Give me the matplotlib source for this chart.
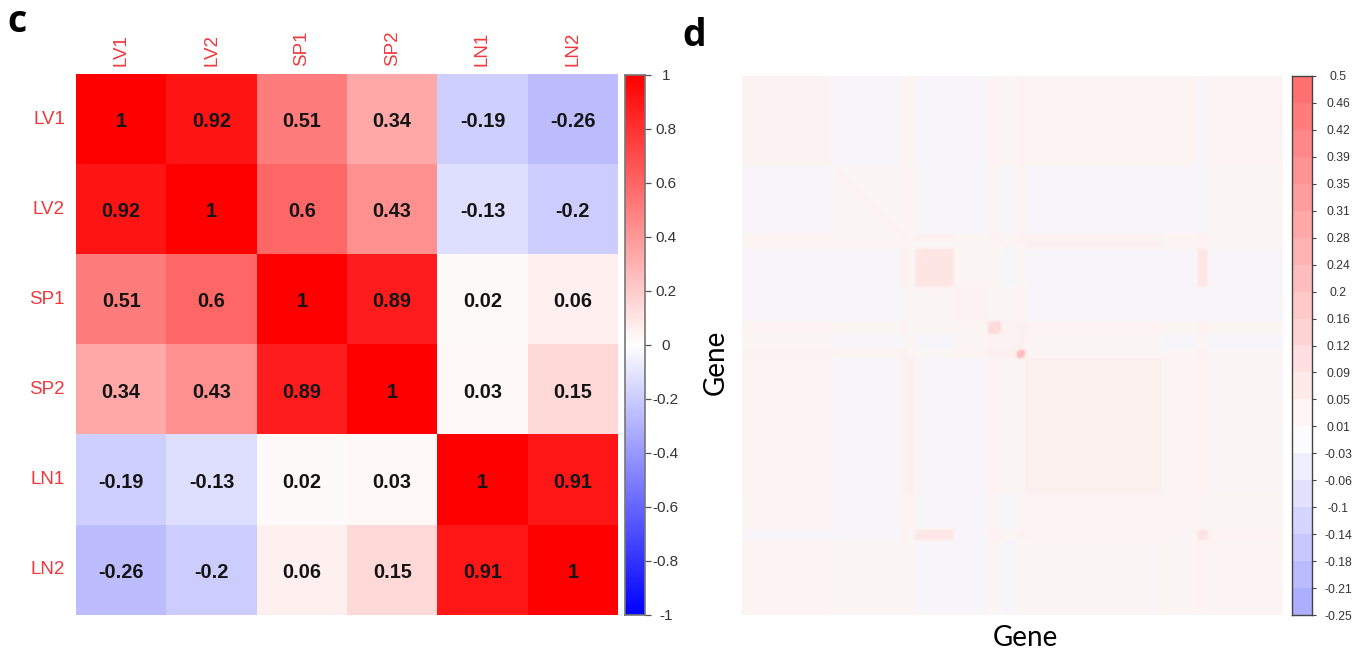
import numpy as np
import matplotlib
matplotlib.use("Agg")
import matplotlib.pyplot as plt
from matplotlib.colors import LinearSegmentedColormap, ListedColormap, BoundaryNorm, Normalize

samples = ["LV1", "LV2", "SP1", "SP2", "LN1", "LN2"]
corr = [
    [1, 0.92, 0.51, 0.34, -0.19, -0.26],
    [0.92, 1, 0.6, 0.43, -0.13, -0.2],
    [0.51, 0.6, 1, 0.89, 0.02, 0.06],
    [0.34, 0.43, 0.89, 1, 0.03, 0.15],
    [-0.19, -0.13, 0.02, 0.03, 1, 0.91],
    [-0.26, -0.2, 0.06, 0.15, 0.91, 1],
]
corr_ticks = [1, 0.8, 0.6, 0.4, 0.2, 0, -0.2, -0.4, -0.6, -0.8, -1]

gene_ticks = [0.5, 0.4625, 0.425, 0.3875, 0.35, 0.3125, 0.275, 0.2375, 0.2, 0.1625, 0.125,
              0.0875, 0.05, 0.0125, -0.025, -0.0625, -0.1, -0.1375, -0.175, -0.2125, -0.25]
gene_tick_labels = ["0.5", "0.46", "0.42", "0.39", "0.35", "0.31", "0.28", "0.24", "0.2", "0.16", "0.12",
                    "0.09", "0.05", "0.01", "-0.03", "-0.06", "-0.1", "-0.14", "-0.18", "-0.21", "-0.25"]

# Gene clusters (gene counts per cluster, in display order)
cluster_sizes = [90, 68, 8, 7, 39, 34, 13, 16, 8, 137, 35, 11, 75]
# Mean correlation between clusters, upper triangle
cluster_corr_upper = [
    [.030, -.008, .020, .015, -.008, -.008, .020, .012, .030, .022, .018, -.008, .020],
    [.012, .012, .022, -.008, -.008, .012, -.008, .025, -.008, -.008, -.008, .012],
    [.025, .012, .035, .012, .030, .012, .035, .030, .015, .030, .012],
    [.012, .010, .012, .012, .012, .012, .040, .025, .012, .012],
    [.090, .012, .012, -.008, .012, -.008, -.008, .085, -.008],
    [.030, .012, .012, .025, -.008, -.008, -.008, -.008],
    [.130, .030, .040, .025, .012, .030, .012],
    [.030, .040, .012, -.008, .012, -.008],
    [.260, .012, .012, .030, .012],
    [.045, .015, .015, .008],
    [.018, .012, .012],
    [.100, .025],
    [.015],
]
gene_self_corr = 0.05

FW, FH = 1368, 653
fig = plt.figure(figsize=(FW / 100, FH / 100), dpi=100, facecolor="white")
def box(x0, y0, x1, y1):
    return fig.add_axes([x0 / FW, 1 - y1 / FH, (x1 - x0) / FW, (y1 - y0) / FH])

HELV = "Liberation Sans"
bwr = LinearSegmentedColormap.from_list("bwr2", ["#0000ff", "#ffffff", "#ff0000"], N=256)
cnorm = Normalize(-1, 1)

# Panel c
ax = box(76, 74, 618, 615)
corr_arr = np.array(corr, dtype=float)
ax.imshow(corr_arr, cmap=bwr, norm=cnorm, aspect="auto", interpolation="nearest")
for i in range(len(samples)):
    for j in range(len(samples)):
        ax.annotate(f"{corr[i][j]:g}", (j, i), xytext=(0, -1.8), textcoords="offset points",
                    ha="center", va="center", fontsize=14.3,
                    fontweight="bold", family=HELV, color="#141414")
ax.set_xticks(range(6))
ax.set_yticks(range(6))
ax.xaxis.tick_top()
ax.set_xticklabels(samples, rotation=90, color="#f0383c", fontsize=13.5, family=HELV, va="bottom")
ax.set_yticklabels(samples, color="#f0383c", fontsize=13.5, family=HELV, va="center")
ax.tick_params(length=0)
ax.tick_params(axis="x", pad=6)
ax.tick_params(axis="y", pad=8)
for s in ax.spines.values():
    s.set_visible(False)

# Panel c colour bar
cax = box(625, 75, 645, 615)
grad = np.linspace(1, -1, 256)[:, None]
cax.imshow(grad, cmap=bwr, norm=cnorm, aspect="auto", extent=[0, 1, -1, 1])
cax.set_xticks([])
cax.yaxis.tick_right()
cax.set_yticks(corr_ticks)
cax.set_yticklabels([f"{t:g}" for t in corr_ticks], family=HELV, fontsize=11, color="#333333")
for lab in cax.get_yticklabels():
    lab.set_horizontalalignment("center")
cax.tick_params(axis="y", length=4, width=0.9, color="#555555", pad=11)
for s in cax.spines.values():
    s.set_color("#777777")
    s.set_linewidth(1.2)

# Panel d
k = len(cluster_sizes)
blocks = np.zeros((k, k))
for i, row in enumerate(cluster_corr_upper):
    for off, v in enumerate(row):
        blocks[i, i + off] = v
        blocks[i + off, i] = v
gene_mat = np.repeat(np.repeat(blocks, cluster_sizes, axis=0), cluster_sizes, axis=1)
np.fill_diagonal(gene_mat, gene_self_corr)
soft = np.array([1, 2, 3, 2, 1]) / 9
gene_soft = np.apply_along_axis(lambda r: np.convolve(r, soft, mode="same"), 0, gene_mat)
gene_soft = np.apply_along_axis(lambda r: np.convolve(r, soft, mode="same"), 1, gene_soft)

bounds = gene_ticks[::-1]
m = len(bounds) - 1
low_hex, high_hex = "#A8A8FF", "#FF6C6C"
bar_smooth = LinearSegmentedColormap.from_list(
    "gene_bar", [(0, low_hex), (0.25 / 0.75, "#ffffff"), (1, high_hex)], N=512)
cols = [bar_smooth(((t0 + t1) / 2 + 0.25) / 0.75) for t0, t1 in zip(bounds[:-1], bounds[1:])]
gcmap = ListedColormap(cols)
gnorm = BoundaryNorm(bounds, m)

def pos(v):
    return (v + 0.25) / 0.75
image_cmap = LinearSegmentedColormap.from_list(
    "gene_img",
    [(0, low_hex), (pos(-0.008), "#F8F6FA"), (pos(0.012), "#FCF5F4"),
     (pos(0.06), "#FDEEED"), (1, high_hex)], N=1024)

ax2 = box(742, 76, 1283, 615)
ax2.imshow(gene_soft, cmap=image_cmap, vmin=-0.25, vmax=0.5, aspect="auto", interpolation="bilinear")
ax2.set_xticks([])
ax2.set_yticks([])
for s in ax2.spines.values():
    s.set_visible(False)

bax = box(1292, 76, 1312, 615)
grad2 = np.linspace(0.5, -0.25, 540)[:, None]
bax.imshow(grad2, cmap=gcmap, norm=gnorm, aspect="auto", extent=[0, 1, -0.25, 0.5], interpolation="nearest")
bax.set_xticks([])
bax.yaxis.tick_right()
bax.set_yticks(gene_ticks)
bax.set_yticklabels(gene_tick_labels, family=HELV, fontsize=8.7, color="#333333")
for lab in bax.get_yticklabels():
    lab.set_horizontalalignment("center")
bax.tick_params(axis="y", length=3, width=0.8, color="#444444", pad=16)
for s in bax.spines.values():
    s.set_color("#444444")
    s.set_linewidth(1)

# Annotations
def put(x, y, s, **kw):
    fig.text(x / FW, 1 - y / FH, s, **kw)
put(17, 22, "c", fontsize=27, fontweight="bold", family="Open Sans", ha="center", va="center", color="black")
put(694, 36, "d", fontsize=27, fontweight="bold", family="Open Sans", ha="center", va="center", color="black")
put(1025, 638, "Gene", fontsize=20, family="Lato", ha="center", va="center", color="black")
put(716, 362, "Gene", fontsize=20, family="Lato", ha="center", va="center", rotation=90, color="black")

fig.savefig("out.png", dpi=100, facecolor="white")
